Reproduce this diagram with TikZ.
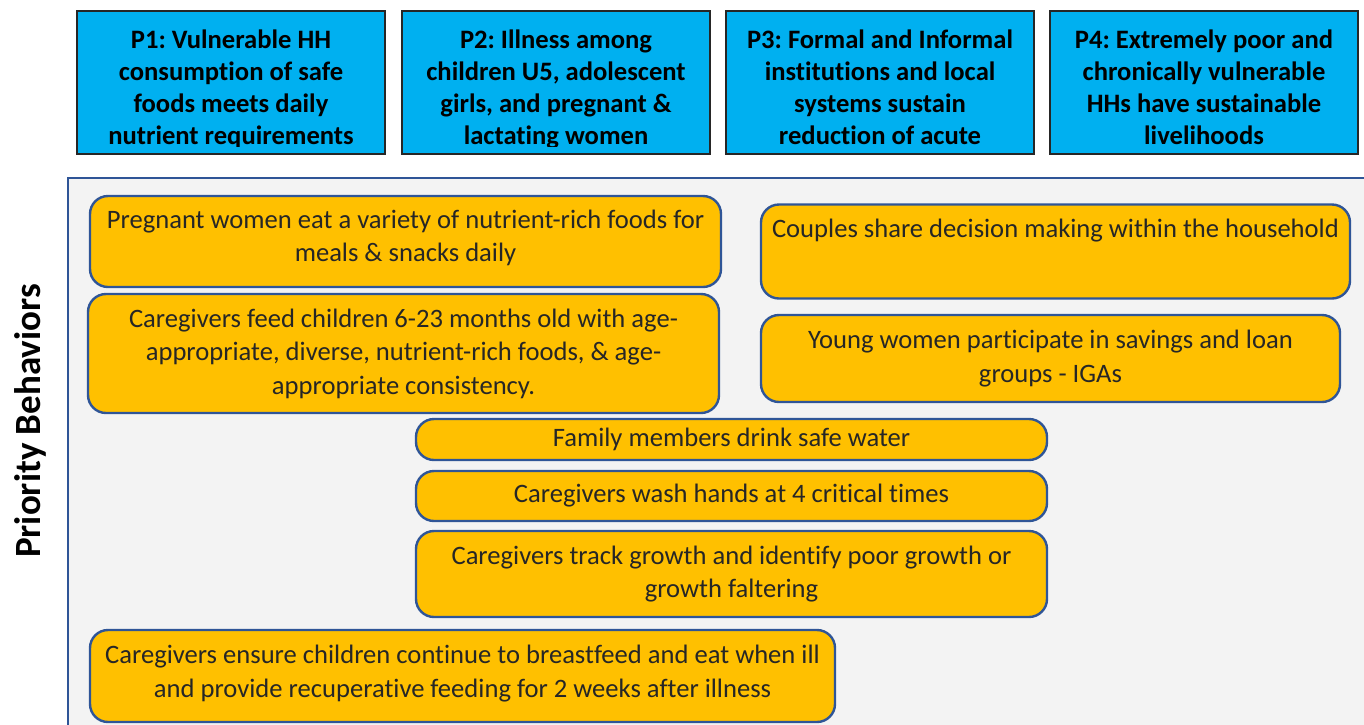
\documentclass[tikz,border=0pt]{standalone}
\usepackage{fontspec}
\setmainfont[Ligatures=NoCommon]{Carlito}
\usepackage{tikz}
\usetikzlibrary{positioning}
\frenchspacing
\definecolor{goalblue}{HTML}{00B0F0}
\definecolor{behavorange}{HTML}{FFC000}
\definecolor{edgeblue}{HTML}{2F5597}
\definecolor{panelgray}{HTML}{F3F3F3}
\definecolor{inkgray}{HTML}{262626}
% top goal box: name, centre x, text (text is cut at the box foot)
\newcommand\goalnode[3]{%
  \node[goalbox] (#1) at (#2,82.5) {};
  \begin{scope}
    \clip (#1.north west) rectangle ([yshift=4pt]#1.south east);
    \node[goaltext,anchor=north] (#1txt) at ([yshift=-9.7pt]#1.north) {#3};
  \end{scope}
}

\begin{document}
\begin{tikzpicture}[
x=0.5pt, y=-0.5pt,
goalbox/.style={
  rectangle,
  draw=black!85,
  line width=0.75pt,
  fill=goalblue,
  minimum width=154pt,
  minimum height=71.5pt},
goaltext/.style={
  inner sep=0pt,
  align=center,
  font=\fontsize{13.3}{16}\selectfont\bfseries},
behav/.style={
  rectangle,
  rounded corners=9pt,
  draw=edgeblue,
  line width=1.2pt,
  fill=behavorange,
  text=inkgray,
  inner sep=3pt,
  align=center,
  font=\fontsize{13.3}{16.8}\selectfont}
]
\clip (0,0) rectangle (1364,724);
\fill[white] (0,0) rectangle (1364,724);

% outcomes along the top
\goalnode{p1}{231}{P1: Vulnerable HH\\consumption of safe\\foods meets daily\\nutrient requirements}
\goalnode{p2}{556}{P2: Illness among\\children U5, adolescent\\girls, and pregnant \&\\lactating women}
\goalnode{p3}{880}{P3: Formal and Informal\\institutions and local\\systems sustain\\reduction of acute}
\goalnode{p4}{1204}{P4: Extremely poor and\\chronically vulnerable\\HHs have sustainable\\livelihoods}

% behaviours panel
\draw[draw=edgeblue, line width=1pt, fill=panelgray] (68,178) rectangle (1380,740);
\node[rotate=90, font=\fontsize{18.5}{22}\selectfont\bfseries] (prio) at (30,421) {Priority Behaviors};

\node[behav, minimum width=315.5pt, minimum height=45.5pt, text depth=5.7pt] (pregnant) at (405.5,241.5)
  {Pregnant women eat a variety of nutrient-rich foods for\\meals \& snacks daily};
\node[behav, minimum width=315.5pt, minimum height=59.5pt] (feed) at (403.5,353.5)
  {Caregivers feed children 6-23 months old with age-\\appropriate, diverse, nutrient-rich foods, \& age-\\appropriate consistency.};
\node[behav, minimum width=294.5pt, text height=13.5pt, text depth=27.5pt] (couples) at (1055.5,251.5)
  {Couples share decision making within the household};
\node[behav, minimum width=289.5pt, minimum height=43.5pt] (savings) at (1050.5,358.5)
  {Young women participate in savings and loan\\groups - IGAs};
\node[behav, minimum width=315.5pt, minimum height=20.5pt] (water) at (731.5,439.5)
  {Family members drink safe water};
\node[behav, minimum width=315.5pt, minimum height=25pt] (wash) at (731.5,496)
  {Caregivers wash hands at 4 critical times};
\node[behav, minimum width=315.5pt, minimum height=43pt] (growth) at (731.5,574)
  {Caregivers track growth and identify poor growth or\\growth faltering};
\node[behav, minimum width=372.5pt, minimum height=46pt, text depth=5pt] (illness) at (462.5,676)
  {Caregivers ensure children continue to breastfeed and eat when ill\\and provide recuperative feeding for 2 weeks after illness};
\end{tikzpicture}
\end{document}
